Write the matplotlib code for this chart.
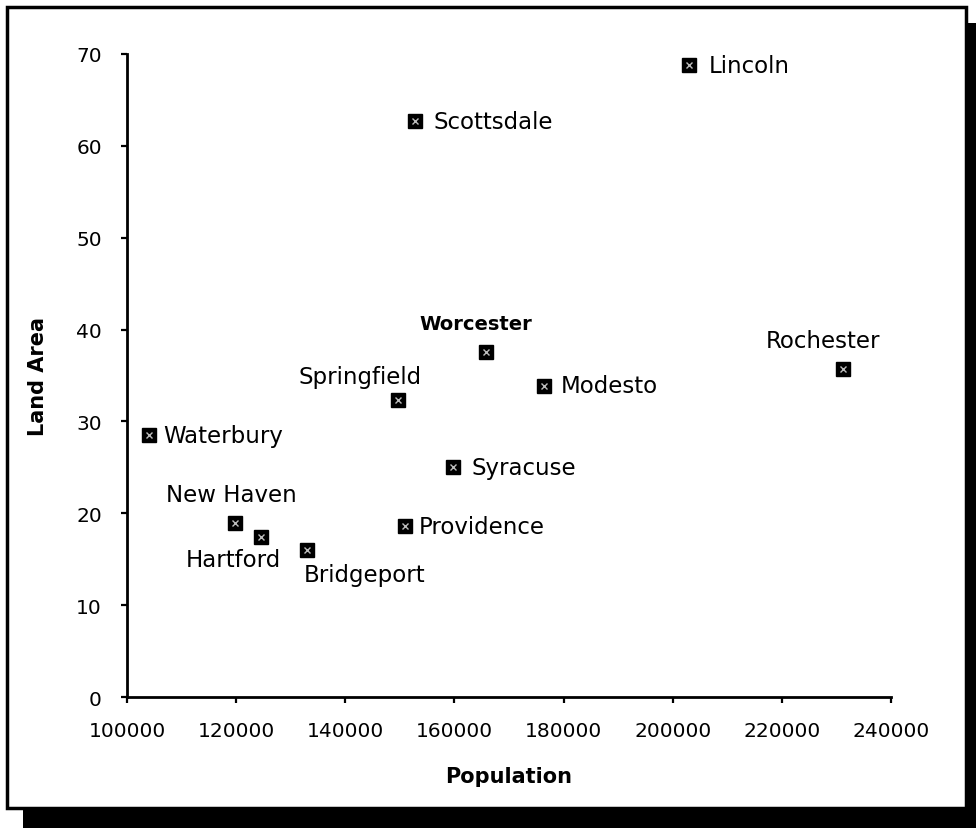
import matplotlib
matplotlib.use("Agg")
import matplotlib.pyplot as plt
from matplotlib.patches import Rectangle

# Daten
cities = ['Lincoln', 'Scottsdale', 'Worcester', 'Rochester', 'Modesto', 'Springfield',
          'Waterbury', 'Syracuse', 'New Haven', 'Hartford', 'Providence', 'Bridgeport']
population = [203000, 152800, 165800, 231200, 176400, 149700,
              104000, 159700, 119800, 124600, 150900, 133000]
land_area = [68.8, 62.7, 37.6, 35.7, 33.9, 32.3,
             28.5, 25.0, 18.9, 17.4, 18.6, 16.0]

x_ticks = [100000, 120000, 140000, 160000, 180000, 200000, 220000, 240000]
y_ticks = [0, 10, 20, 30, 40, 50, 60, 70]

# Beschriftungs-Lage: (dx, dy) in Pixel, ha, va
label_pos = {
    'Lincoln': (20, 0, 'left', 'center'),
    'Scottsdale': (18, 0, 'left', 'center'),
    'Worcester': (-10, 19, 'center', 'bottom'),
    'Rochester': (-20, 17, 'center', 'bottom'),
    'Modesto': (17, 0, 'left', 'center'),
    'Springfield': (-38, 12, 'center', 'bottom'),
    'Waterbury': (14, 0, 'left', 'center'),
    'Syracuse': (19, 0, 'left', 'center'),
    'New Haven': (-4, 17, 'center', 'bottom'),
    'Hartford': (-28, -11, 'center', 'top'),
    'Providence': (14, 0, 'left', 'center'),
    'Bridgeport': (-3, -13, 'left', 'top'),
}

W, H = 976, 829
fig = plt.figure(figsize=(W / 100, H / 100), dpi=100)
fig.patch.set_facecolor('white')

# Rahmen mit Schatten (hinter den Axes)
fig.patches.append(Rectangle((23 / W, 0), 1, 1 - 24 / H, transform=fig.transFigure,
                             facecolor='black', edgecolor='none', zorder=-2))
fig.patches.append(Rectangle((7 / W, 1 - 809 / H), (966 - 7) / W, (809 - 8) / H,
                             transform=fig.transFigure, facecolor='white',
                             edgecolor='black', linewidth=2.5, zorder=-1))

ax = fig.add_axes([127 / W, 1 - 698 / H, (891 - 127) / W, (698 - 55) / H])
ax.set_facecolor('none')

ax.plot(population, land_area, 's', ms=9.5, color='black', clip_on=False, zorder=3)
ax.plot(population, land_area, 'x', ms=4, mew=1, color='#bdbdbd', clip_on=False, zorder=4)

for name, px, py in zip(cities, population, land_area):
    dx, dy, ha, va = label_pos[name]
    bold = name == 'Worcester'
    ax.annotate(name, (px, py), xytext=(dx * 0.72, dy * 0.72), textcoords='offset points',
                ha=ha, va=va, fontsize=14 if bold else 16.5,
                fontweight='bold' if bold else 'normal')

ax.set_xlim(100000, 240000)
ax.set_ylim(0, 70)
ax.set_xticks(x_ticks)
ax.set_yticks(y_ticks)
ax.set_xticklabels([str(t) for t in x_ticks])
ax.tick_params(labelsize=14.5, width=1.6, length=4, direction='out')
ax.tick_params(axis='x', pad=13)
ax.tick_params(axis='y', pad=14)

for s in ['top', 'right']:
    ax.spines[s].set_visible(False)
for s in ['left', 'bottom']:
    ax.spines[s].set_linewidth(2)

ax.set_xlabel('Population', fontsize=15, fontweight='bold', labelpad=19)
ax.set_ylabel('Land Area', fontsize=15, fontweight='bold', labelpad=20)

fig.savefig('out.png', dpi=100)
